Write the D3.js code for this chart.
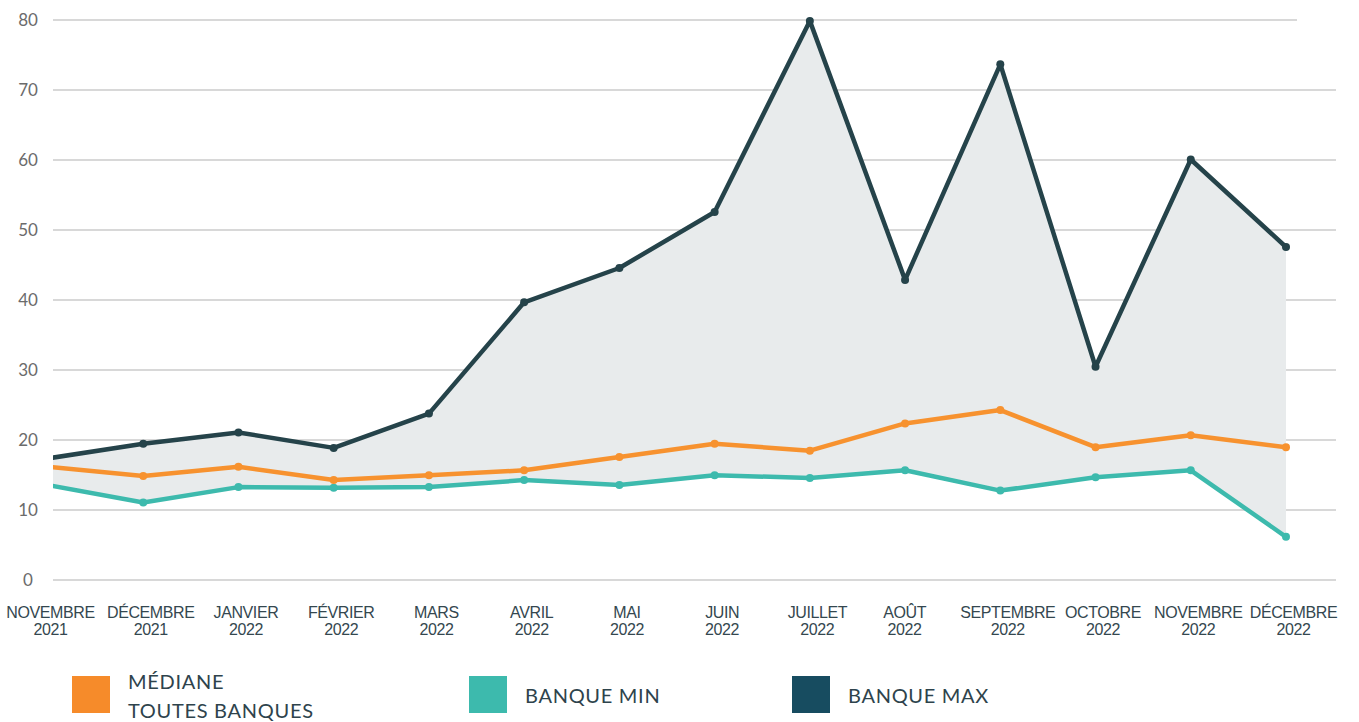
<!DOCTYPE html>
<html>
<head>
<meta charset="utf-8">
<script src="https://cdn.jsdelivr.net/npm/d3@7"></script>
<style>
  body { margin: 0; background: #fff; }
  svg { display: block; font-family: Lato, "Open Sans", sans-serif; }
</style>
</head>
<body>
<div id="chart"></div>
<script>
// months (two-line labels)
const months = ["NOVEMBRE|2021", "DÉCEMBRE|2021", "JANVIER|2022", "FÉVRIER|2022", "MARS|2022", "AVRIL|2022",
  "MAI|2022", "JUIN|2022", "JUILLET|2022", "AOÛT|2022", "SEPTEMBRE|2022", "OCTOBRE|2022", "NOVEMBRE|2022", "DÉCEMBRE|2022"];
const banqueMax = [17.3, 19.4, 21.0, 18.8, 23.7, 39.6, 44.5, 52.5, 79.8, 42.8, 73.6, 30.4, 60.0, 47.5];
const mediane   = [16.1, 14.8, 16.1, 14.2, 14.9, 15.6, 17.5, 19.4, 18.4, 22.3, 24.2, 18.9, 20.6, 18.9];
const banqueMin = [13.5, 11.0, 13.2, 13.1, 13.2, 14.2, 13.5, 14.9, 14.5, 15.6, 12.7, 14.6, 15.6, 6.1];
const yTicks = [0, 10, 20, 30, 40, 50, 60, 70, 80];
const legendItems = [
  {label: ["MÉDIANE", "TOUTES BANQUES"], color: "#f68b2a"},
  {label: ["BANQUE MIN"], color: "#3dbaad"},
  {label: ["BANQUE MAX"], color: "#174c60"}
];

const width = 1359, height = 722;
const svg = d3.select("#chart").append("svg")
    .attr("width", width)
    .attr("height", height);

const x = d3.scalePoint().domain(months).range([48, 1286]);
const y = d3.scaleLinear().domain([0, 80]).range([579.5, 19.5]);

// plot area is cut at the left gridline start
svg.append("defs").append("clipPath")
    .attr("id", "plot-clip")
  .append("rect")
    .attr("x", 53)
    .attr("y", 0)
    .attr("width", width - 53)
    .attr("height", 600);

// grid + y labels
const yAxis = svg.append("g")
    .attr("transform", "translate(53,0)")
    .call(d3.axisLeft(y).tickValues(yTicks).tickSize(0).tickPadding(0))
    .call(g => g.select(".domain").remove());
yAxis.selectAll(".tick line")
    .attr("x2", d => d === 80 ? 1297 - 53 : 1336 - 53)
    .attr("stroke", "#d8d8d8")
    .attr("stroke-width", 2);
yAxis.selectAll(".tick text")
    .attr("x", -25)
    .attr("text-anchor", "middle")
    .attr("dy", "0.35em")
    .attr("fill", "#6b6b6b")
    .attr("font-size", 17)
    .attr("font-family", "Lato, sans-serif");

// x labels (sit a bit right of the points, except first and AOÛT)
const xAxis = svg.append("g")
    .attr("transform", "translate(0,580)")
    .call(d3.axisBottom(x).tickSize(0).tickFormat(""))
    .call(g => g.select(".domain").remove());
xAxis.selectAll(".tick").each(function(d, i) {
  const parts = d.split("|");
  const cx = i === 0 ? 2 : (i === 9 ? -1 : 7);
  const t = d3.select(this).append("text")
      .attr("fill", "#34474f")
      .attr("font-size", 16)
      .attr("letter-spacing", "-0.4")
      .attr("text-anchor", "middle");
  t.append("tspan").attr("x", cx).attr("y", 38).text(parts[0]);
  t.append("tspan").attr("x", cx).attr("y", 55).text(parts[1]);
});

const plot = svg.append("g").attr("clip-path", "url(#plot-clip)");

// range area between min and max
const idx = d3.range(months.length);
plot.append("path")
    .datum(idx)
    .attr("fill", "#e8ebec")
    .attr("d", d3.area()
      .x(i => x(months[i]))
      .y0(i => y(banqueMin[i]))
      .y1(i => y(banqueMax[i])));

const series = [
  {values: banqueMax, color: "#25434a"},
  {values: banqueMin, color: "#3dbaad"},
  {values: mediane, color: "#f7922f"}
];
const line = v => d3.line().x(i => x(months[i])).y(i => y(v[i]));

series.forEach(s => {
  plot.append("path")
      .datum(idx)
      .attr("fill", "none")
      .attr("stroke", s.color)
      .attr("stroke-width", 4.5)
      .attr("stroke-linejoin", "round")
      .attr("d", line(s.values));
  plot.append("g")
    .selectAll("circle")
    .data(idx)
    .join("circle")
      .attr("cx", i => x(months[i]))
      .attr("cy", i => y(s.values[i]))
      .attr("r", 4)
      .attr("fill", s.color);
});

// legend
const legendX = [72, 469, 792];
const legend = svg.append("g");
legendItems.forEach((item, k) => {
  const g = legend.append("g").attr("transform", `translate(${legendX[k]},676)`);
  g.append("rect").attr("width", 38).attr("height", 37).attr("fill", item.color);
  const t = g.append("text")
      .attr("fill", "#2e434c")
      .attr("font-size", 20)
      .attr("letter-spacing", "0.7");
  if (item.label.length === 2) {
    t.append("tspan").attr("x", 56).attr("y", 13).text(item.label[0]);
    t.append("tspan").attr("x", 56).attr("y", 42).text(item.label[1]);
  } else {
    t.append("tspan").attr("x", 56).attr("y", 27).text(item.label[0]);
  }
});
</script>
</body>
</html>
